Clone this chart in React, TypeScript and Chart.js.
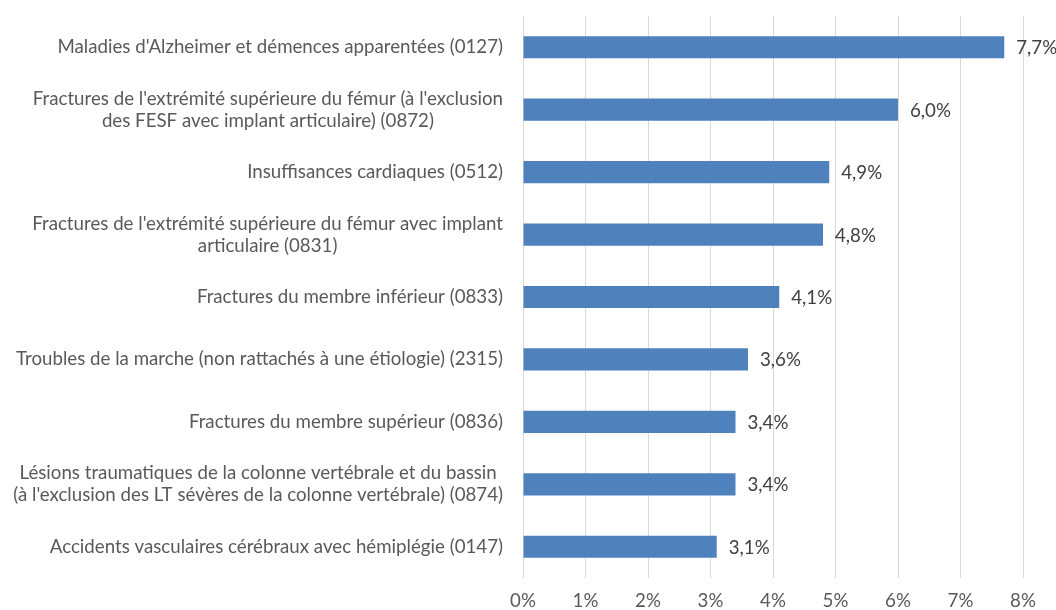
import React, { useEffect, useRef } from "react";
import { Chart, registerables } from "chart.js";

Chart.register(...registerables);

const categories: string[][] = [
  ["Maladies d'Alzheimer et démences apparentées (0127)"],
  ["Fractures de l'extrémité supérieure du fémur (à l'exclusion", "des FESF avec implant articulaire) (0872)"],
  ["Insuffisances cardiaques (0512)"],
  ["Fractures de l'extrémité supérieure du fémur avec implant", "articulaire (0831)"],
  ["Fractures du membre inférieur (0833)"],
  ["Troubles de la marche (non rattachés à une étiologie) (2315)"],
  ["Fractures du membre supérieur (0836)"],
  ["Lésions traumatiques de la colonne vertébrale et du bassin", "(à l'exclusion des LT sévères de la colonne vertébrale) (0874)"],
  ["Accidents vasculaires cérébraux avec hémiplégie (0147)"],
];

const values: number[] = [7.7, 6.0, 4.9, 4.8, 4.1, 3.6, 3.4, 3.4, 3.1];

const xTicks: number[] = [0, 1, 2, 3, 4, 5, 6, 7, 8];

const FONT_FAMILY = "Lato, 'Open Sans', sans-serif";
const FONT_SIZE = 18.7;

const fmt = (v: number) => v.toFixed(1).replace(".", ",") + "%";

const labelPlugin = {
  id: "customLabels",
  afterDraw(chart: any) {
    const ctx = chart.ctx;
    const area = chart.chartArea;
    const yScale = chart.scales.y;
    ctx.save();
    ctx.font = `${FONT_SIZE}px ${FONT_FAMILY}`;
    ctx.fillStyle = "#595959";
    ctx.textBaseline = "middle";
    ctx.textAlign = "center";
    const rightEdge = area.left - 20;
    const lh = 22;
    categories.forEach((lines, i) => {
      const yc = yScale.getPixelForValue(i);
      const maxW = Math.max(...lines.map((l) => ctx.measureText(l).width));
      const cx = rightEdge - maxW / 2;
      const start = yc - ((lines.length - 1) * lh) / 2;
      lines.forEach((l, j) => ctx.fillText(l, cx, start + j * lh));
    });
    const meta = chart.getDatasetMeta(0);
    ctx.textAlign = "left";
    ctx.fillStyle = "#404040";
    meta.data.forEach((bar: any, i: number) => {
      ctx.fillText(fmt(values[i]), bar.x + 12, bar.y + 1);
    });
    ctx.restore();
  },
};

export default function App() {
  const ref = useRef<HTMLCanvasElement | null>(null);
  useEffect(() => {
    if (!ref.current) return;
    const chart = new Chart(ref.current, {
      type: "bar",
      data: {
        labels: categories.map((c) => c.join(" ")),
        datasets: [
          {
            data: values,
            backgroundColor: "#4F81BD",
            borderWidth: 0,
            categoryPercentage: 1,
            barPercentage: 0.355,
          },
        ],
      },
      options: {
        indexAxis: "y",
        animation: false,
        responsive: false,
        maintainAspectRatio: false,
        layout: { padding: { left: 0, right: 33, top: 16, bottom: 0 } },
        plugins: {
          legend: { display: false },
          tooltip: { enabled: false },
        },
        scales: {
          x: {
            min: 0,
            max: 8,
            afterBuildTicks: (scale: any) => {
              scale.ticks = xTicks.map((v) => ({ value: v }));
            },
            afterFit: (scale: any) => {
              scale.height = 32;
            },
            grid: { color: "#D9D9D9", lineWidth: 1, drawTicks: false },
            border: { display: false },
            ticks: {
              padding: 12,
              color: "#595959",
              font: { family: FONT_FAMILY, size: FONT_SIZE },
              callback: (v: any) => v + "%",
            },
          },
          y: {
            grid: { display: false },
            border: { display: false },
            ticks: { display: false },
            afterFit: (scale: any) => {
              scale.width = 523;
            },
          },
        },
      },
      plugins: [labelPlugin],
    } as any);
    return () => chart.destroy();
  }, []);
  return (
    <div style={{ position: "fixed", left: 0, top: 0, width: 1056, height: 610, background: "#fff" }}>
      <canvas ref={ref} width={1056} height={610} style={{ width: 1056, height: 610 }} />
    </div>
  );
}
